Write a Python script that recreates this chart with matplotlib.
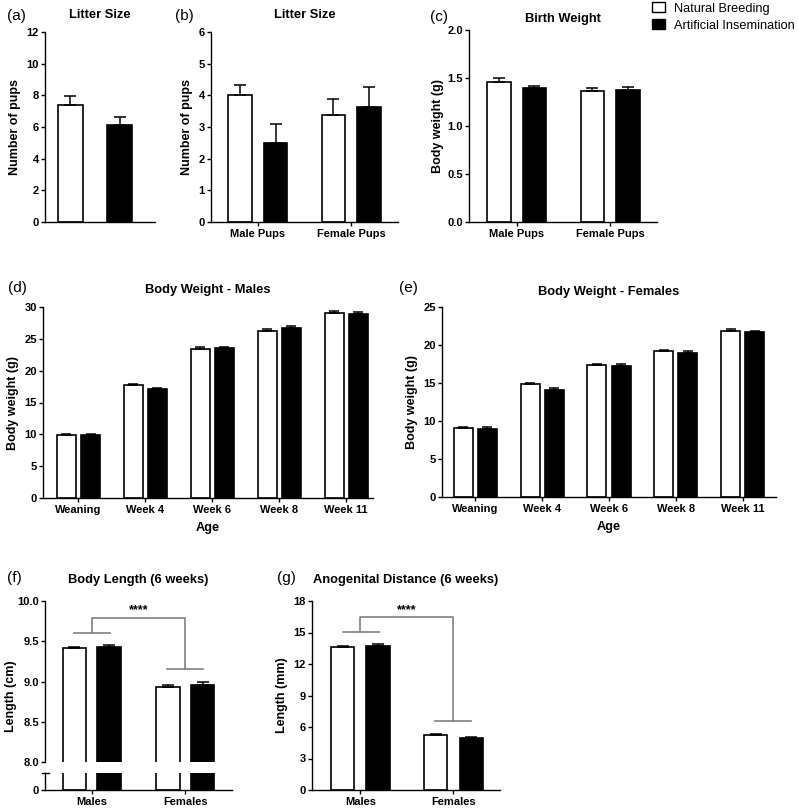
import matplotlib
matplotlib.use('Agg')
import numpy as np
import matplotlib.pyplot as plt
from matplotlib.patches import Patch

plt.rcParams['font.family'] = ['Liberation Sans', 'DejaVu Sans']
plt.rcParams['font.weight'] = 'bold'

W, H = 798, 808

# --- data ---
litter_nb, litter_nb_err = 7.4, 0.55
litter_ai, litter_ai_err = 6.15, 0.47

pup_groups = ['Male Pups', 'Female Pups']
pups_nb = [4.0, 3.38]
pups_nb_err = [0.33, 0.5]
pups_ai = [2.5, 3.63]
pups_ai_err = [0.6, 0.63]

birth_nb = [1.46, 1.36]
birth_nb_err = [0.04, 0.035]
birth_ai = [1.40, 1.375]
birth_ai_err = [0.015, 0.03]

ages = ['Weaning', 'Week 4', 'Week 6', 'Week 8', 'Week 11']
bw_m_nb = [9.9, 17.7, 23.45, 26.3, 29.1]
bw_m_nb_err = [0.15, 0.25, 0.2, 0.3, 0.3]
bw_m_ai = [9.95, 17.05, 23.6, 26.7, 28.95]
bw_m_ai_err = [0.15, 0.3, 0.15, 0.25, 0.2]
bw_f_nb = [9.05, 14.85, 17.4, 19.2, 21.8]
bw_f_nb_err = [0.2, 0.2, 0.15, 0.2, 0.3]
bw_f_ai = [8.9, 14.05, 17.3, 18.95, 21.65]
bw_f_ai_err = [0.25, 0.25, 0.2, 0.2, 0.25]

sexes = ['Males', 'Females']
len_nb = [9.41, 8.93]
len_nb_err = [0.015, 0.03]
len_ai = [9.43, 8.96]
len_ai_err = [0.02, 0.04]
agd_nb = [13.6, 5.2]
agd_nb_err = [0.15, 0.1]
agd_ai = [13.7, 4.95]
agd_ai_err = [0.2, 0.1]

GRAY = '#808080'
EDGE_LW = 1.2
TICK_FS = 8


def rect(x0, y0, x1, y1):
    # pixel box -> figure fraction
    return [x0 / W, 1 - y1 / H, (x1 - x0) / W, (y1 - y0) / H]


def style(ax, xticks=True):
    for s in ['top', 'right']:
        ax.spines[s].set_visible(False)
    for s in ['left', 'bottom']:
        ax.spines[s].set_linewidth(1.0)
    ax.tick_params(axis='y', direction='out', length=3, width=1.0, labelsize=TICK_FS, pad=1.5)
    ax.tick_params(axis='x', direction='out', length=3 if xticks else 0, width=1.0, labelsize=TICK_FS, pad=2)
    for lab in ax.get_xticklabels() + ax.get_yticklabels():
        lab.set_fontweight('bold')


def paired(ax, n, nb, nb_err, ai, ai_err, width, offset, capsize):
    x = np.arange(n)
    for xs, vals, errs, fc in [(x - offset, nb, nb_err, 'white'), (x + offset, ai, ai_err, 'black')]:
        ax.bar(xs, vals, width, color=fc, edgecolor='black', linewidth=EDGE_LW, zorder=2)
        ax.errorbar(xs, vals, yerr=[np.zeros(n), errs], fmt='none', ecolor='black',
                    elinewidth=1.1, capsize=capsize, capthick=1.1, zorder=3)
    return x


def label(x, y, s):
    fig.text(x / W, 1 - y / H, s, fontsize=11, fontweight='normal', va='center', ha='left')


fig = plt.figure(figsize=(W / 100, H / 100), dpi=100)

# (a) litter size
ax = fig.add_axes(rect(45, 32, 155, 222))
xa = np.arange(2)
ax.bar(xa, [litter_nb, litter_ai], 0.505, color=['white', 'black'], edgecolor='black', linewidth=EDGE_LW, zorder=2)
ax.errorbar(xa, [litter_nb, litter_ai], yerr=[[0, 0], [litter_nb_err, litter_ai_err]], fmt='none',
            ecolor='black', elinewidth=1.1, capsize=4.3, capthick=1.1, zorder=3)
ax.set_xlim(-0.515, 1.71)
ax.set_ylim(0, 12)
ax.set_yticks([0, 2, 4, 6, 8, 10, 12])
ax.set_xticks([])
ax.set_ylabel('Number of pups', fontsize=9, fontweight='bold', labelpad=4)
ax.set_title('Litter Size', fontsize=9.3, fontweight='bold', pad=10)
style(ax, xticks=False)
label(7, 16, '(a)')

# (b) litter size by sex
ax = fig.add_axes(rect(211, 32, 398, 222))
x = paired(ax, 2, pups_nb, pups_nb_err, pups_ai, pups_ai_err, 0.25, 0.19, 4.2)
ax.set_xlim(-0.5, 1.5)
ax.set_ylim(0, 6)
ax.set_yticks(range(7))
ax.set_xticks(x)
ax.set_xticklabels(pup_groups)
ax.set_ylabel('Number of pups', fontsize=9, fontweight='bold', labelpad=4)
ax.set_title('Litter Size', fontsize=9.3, fontweight='bold', pad=10)
style(ax)
label(175, 16, '(b)')

# (c) birth weight
ax = fig.add_axes(rect(469, 30, 657, 222))
x = paired(ax, 2, birth_nb, birth_nb_err, birth_ai, birth_ai_err, 0.25, 0.19, 4.2)
ax.set_xlim(-0.51, 1.5)
ax.set_ylim(0, 2.0)
ax.set_yticks([0, 0.5, 1.0, 1.5, 2.0])
ax.set_yticklabels(['0.0', '0.5', '1.0', '1.5', '2.0'])
ax.set_xticks(x)
ax.set_xticklabels(pup_groups)
ax.set_ylabel('Body weight (g)', fontsize=9, fontweight='bold', labelpad=2)
ax.set_title('Birth Weight', fontsize=9.3, fontweight='bold', pad=6)
style(ax)
label(430, 17, '(c)')

# legend
handles = [Patch(facecolor='white', edgecolor='black', linewidth=1.0, label='Natural Breeding'),
           Patch(facecolor='black', edgecolor='black', linewidth=1.0, label='Artificial Insemination')]
leg = fig.legend(handles=handles, loc='upper left', bbox_to_anchor=(652 / W, 1 - 2 / H),
                 frameon=False, borderaxespad=0, borderpad=0, handlelength=1.0, handleheight=0.85,
                 handletextpad=0.75, labelspacing=0.35, prop={'size': 9.2, 'weight': 'normal'})

# (d) body weight males
ax = fig.add_axes(rect(43, 307, 373, 498))
x = paired(ax, 5, bw_m_nb, bw_m_nb_err, bw_m_ai, bw_m_ai_err, 0.285, 0.18, 3.6)
ax.set_xlim(-0.53, 4.4)
ax.set_ylim(0, 30)
ax.set_yticks(range(0, 31, 5))
ax.set_xticks(x)
ax.set_xticklabels(ages)
ax.set_xlabel('Age', fontsize=9.2, fontweight='bold', labelpad=5)
ax.set_ylabel('Body weight (g)', fontsize=9, fontweight='bold', labelpad=4)
ax.set_title('Body Weight - Males', fontsize=9.3, fontweight='bold', pad=10)
style(ax)
label(8, 288, '(d)')

# (e) body weight females
ax = fig.add_axes(rect(442, 307, 776, 497))
x = paired(ax, 5, bw_f_nb, bw_f_nb_err, bw_f_ai, bw_f_ai_err, 0.285, 0.18, 3.6)
ax.set_xlim(-0.5, 4.5)
ax.set_ylim(0, 25)
ax.set_yticks(range(0, 26, 5))
ax.set_xticks(x)
ax.set_xticklabels(ages)
ax.set_xlabel('Age', fontsize=9.2, fontweight='bold', labelpad=5)
ax.set_ylabel('Body weight (g)', fontsize=9, fontweight='bold', labelpad=4)
ax.set_title('Body Weight - Females', fontsize=9.3, fontweight='bold', pad=8.5)
style(ax)
label(399, 288, '(e)')


def bracket(ax, y_left, y_top, y_right, stars_y):
    kw = dict(color=GRAY, lw=1.2, clip_on=False, zorder=4)
    ax.plot([-0.19, 0.2], [y_left, y_left], **kw)
    ax.plot([0, 0, 1, 1], [y_left, y_top, y_top, y_right], **kw)
    ax.plot([0.8, 1.19], [y_right, y_right], **kw)
    ax.text(0.5, stars_y, '****', ha='center', va='bottom', fontsize=9, fontweight='bold')


# (f) body length, broken axis
ax_t = fig.add_axes(rect(45, 601, 232, 762))
ax_b = fig.add_axes(rect(45, 773, 232, 790))
for a in [ax_t, ax_b]:
    x = paired(a, 2, len_nb, len_nb_err, len_ai, len_ai_err, 0.25, 0.185, 4.2)
    a.set_xlim(-0.5, 1.5)
ax_t.set_ylim(8.0, 10.0)
ax_t.set_yticks([8.0, 8.5, 9.0, 9.5, 10.0])
ax_t.set_yticklabels(['8.0', '8.5', '9.0', '9.5', '10.0'])
ax_t.set_xticks([])
ax_t.spines['bottom'].set_visible(False)
style(ax_t, xticks=False)
ax_b.set_ylim(0, 1)
ax_b.set_yticks([0])
ax_b.set_xticks(x)
ax_b.set_xticklabels(sexes)
style(ax_b)
ax_b.plot([-0.016, 0.02], [1, 1], transform=ax_b.transAxes, color='black', lw=1.0, clip_on=False)
ax_t.set_ylabel('Length (cm)', fontsize=9, fontweight='bold')
ax_t.yaxis.set_label_coords(-0.148, 0.41)
ax_t.set_title('Body Length (6 weeks)', fontsize=9.3, fontweight='bold', pad=13)
bracket(ax_t, 9.60, 9.79, 9.155, 9.81)
label(7, 578, '(f)')

# (g) anogenital distance
ax = fig.add_axes(rect(312, 601, 500, 790))
x = paired(ax, 2, agd_nb, agd_nb_err, agd_ai, agd_ai_err, 0.25, 0.19, 4.2)
ax.set_xlim(-0.52, 1.5)
ax.set_ylim(0, 18)
ax.set_yticks(range(0, 19, 3))
ax.set_xticks(x)
ax.set_xticklabels(sexes)
ax.set_ylabel('Length (mm)', fontsize=9, fontweight='bold', labelpad=4)
ax.set_title('Anogenital Distance (6 weeks)', fontsize=9.3, fontweight='bold', pad=13)
style(ax)
bracket(ax, 15.05, 16.5, 6.57, 16.6)
label(277, 578, '(g)')

fig.savefig('out.png', dpi=100)
